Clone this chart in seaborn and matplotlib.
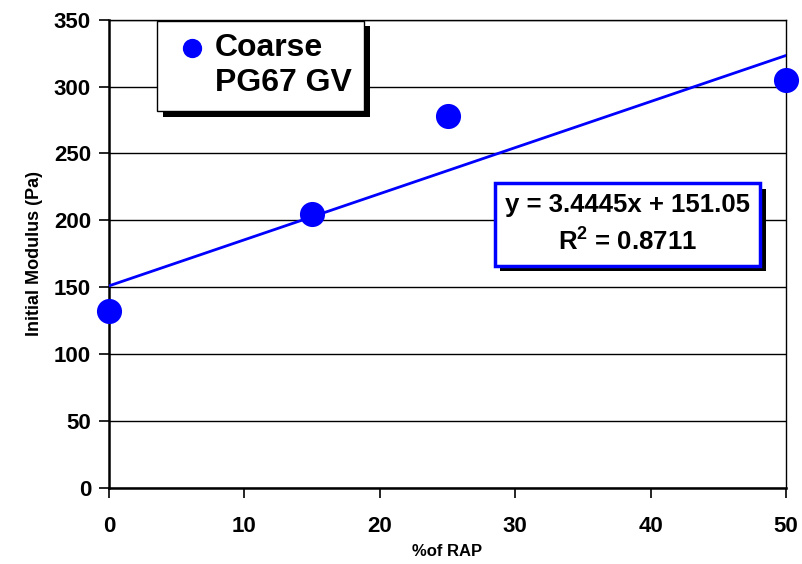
import numpy as np
import pandas as pd
import seaborn as sns
import matplotlib.pyplot as plt
import matplotlib.patheffects as pe
from matplotlib.lines import Line2D

# data
rap_pct = [0, 15, 25, 50]
modulus = [132, 205, 278, 305]
slope = 3.4445
intercept = 151.05
r2 = 0.8711

sns.set_theme(style="white")
plt.rcParams['font.family'] = ['Liberation Sans', 'DejaVu Sans']
plt.rcParams['font.weight'] = 'bold'
plt.rcParams['mathtext.fontset'] = 'custom'
plt.rcParams['mathtext.bf'] = 'Liberation Sans:bold'
plt.rcParams['mathtext.rm'] = 'Liberation Sans:bold'
plt.rcParams['mathtext.default'] = 'bf'

df = pd.DataFrame({'rap': rap_pct, 'modulus': modulus})

fig = plt.figure(figsize=(8.02, 5.64), dpi=100)
ax = fig.add_axes([0.136, 0.135, 0.844, 0.830])

# trend line
fit_x = np.array([0, 50])
fit_y = slope * fit_x + intercept
ax.plot(fit_x, fit_y, color='#0000ff', lw=2, zorder=3)

sns.scatterplot(data=df, x='rap', y='modulus', ax=ax, color='#0000ff', s=280,
                edgecolor='#0000ff', label='Coarse', zorder=4, clip_on=False)

ax.set_xlim(0, 50)
ax.set_ylim(0, 350)
ax.set_xticks(range(0, 51, 10))
ax.set_yticks(range(0, 351, 50))
ax.yaxis.grid(True, color='black', lw=1)
ax.set_axisbelow(True)
for s in ax.spines.values():
    s.set_color('black')
    s.set_linewidth(1)
ax.spines['left'].set_linewidth(1.8)
ax.spines['bottom'].set_linewidth(1.8)
ax.tick_params(axis='both', direction='out', length=7, width=1.2, color='black',
               labelsize=16, labelcolor='black', bottom=True, left=True)
ax.tick_params(axis='x', pad=13)
ax.tick_params(axis='y', pad=6)
for lab in ax.get_xticklabels() + ax.get_yticklabels():
    lab.set_fontweight('bold')

ax.set_xlabel('%of RAP', fontsize=12, fontweight='bold', color='black', labelpad=5)
ax.set_ylabel('Initial Modulus (Pa)', fontsize=13, fontweight='bold', color='black', labelpad=8)

shadow = [pe.SimplePatchShadow(offset=(4, -4), shadow_rgbFace='black', alpha=1), pe.Normal()]

# legend: marker on the first line only
handles, labels = ax.get_legend_handles_labels()
handles.append(Line2D([], [], linestyle='none', marker=None))
labels.append('PG67 GV')
leg = ax.legend(handles, labels, loc='upper left', bbox_to_anchor=(0.071, 0.998),
                borderaxespad=0, fancybox=False, frameon=True, fontsize=23,
                handletextpad=0.0, handlelength=1.4, borderpad=0.4,
                labelspacing=0.15, markerscale=0.75)
frame = leg.get_frame()
frame.set_edgecolor('black')
frame.set_linewidth(1)
frame.set_alpha(1)
frame.set_path_effects(shadow)
for t in leg.get_texts():
    t.set_fontweight('bold')
    t.set_color('black')

eq = ax.text(38.3, 197, f'y = {slope}x + {intercept}\nR$^2$ = {r2}', ha='center', va='center',
             fontsize=18.5, fontweight='bold', color='black', linespacing=1.5, zorder=6,
             bbox=dict(boxstyle='square,pad=0.4', facecolor='white', edgecolor='#0000ff', lw=2.5))
eq.get_bbox_patch().set_path_effects(shadow)

fig.savefig('out.png', dpi=100)
